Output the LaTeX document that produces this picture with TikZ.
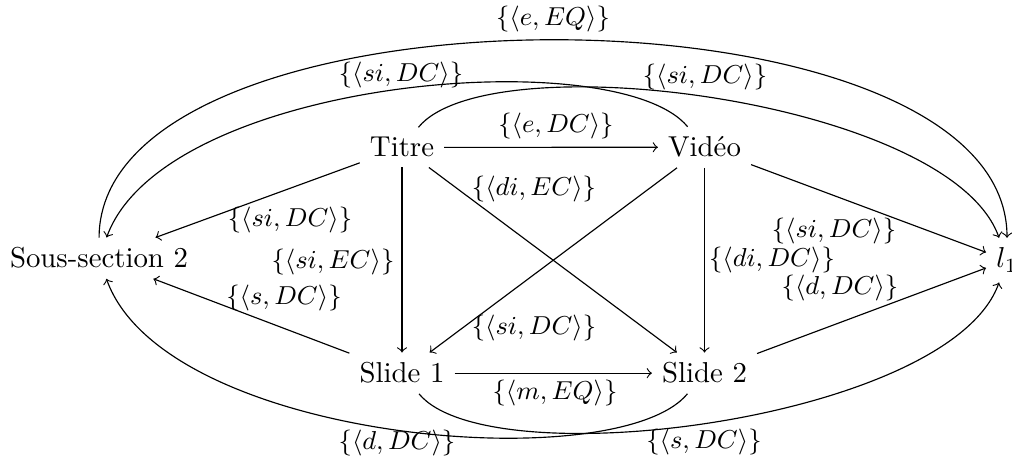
\documentclass[tikz,border=0pt]{standalone}
\tikzset{
  ar/.style={->},
  lab/.style={font=\small, inner sep=0pt},
  nd/.style={anchor=base},
}
\begin{document}
\begin{tikzpicture}[x=0.3472pt,y=-0.3472pt]
\useasboundingbox (0,0) rectangle (1012,460);
% nodes
\node[nd] (t)  at (402,157)   {Titre};
\node[nd] (v)  at (704.5,157) {Vidéo};
\node[nd] (ss) at (99,268)    {Sous-section 2};
\node[nd] (l)  at (1007,268)  {$l_1$};
\node[nd] (s1) at (402,383)   {Slide 1};
\node[nd] (s2) at (704.5,383) {Slide 2};
% straight connectors
\draw[ar] (t) -- (v);
\draw[ar] (t) -- (ss);
\draw[ar] (t) -- (s1);
\draw[ar] (t) -- (s2);
\draw[ar] (v) -- (s1);
\draw[ar] (v) -- (s2);
\draw[ar] (v) -- (l);
\draw[ar] (s1) -- (ss);
\draw[ar] (s1) -- (s2);
\draw[ar] (s2) -- (l);
% curved connectors
\draw[ar] (ss) .. controls (100,-26) and (1007,-26) .. (l);
\draw[ar] (v) .. controls (617,41) and (165,78) .. (ss);
\draw[ar] (t) .. controls (489,41) and (950,100) .. (l);
\draw[ar] (s2) .. controls (617,479) and (165,442) .. (ss);
\draw[ar] (s1) .. controls (489,479) and (950,420) .. (l);
% labels
\node[lab] (la1)  at (553,19)  {$\{\langle e, EQ\rangle\}$};
\node[lab] (la2)  at (401,75)  {$\{\langle si, DC\rangle\}$};
\node[lab] (la3)  at (705,77)  {$\{\langle si, DC\rangle\}$};
\node[lab] (la4)  at (556,126) {$\{\langle e, DC\rangle\}$};
\node[lab] (la5)  at (534,189) {$\{\langle di, EC\rangle\}$};
\node[lab] (la6)  at (290,220) {$\{\langle si, DC\rangle\}$};
\node[lab] (la7)  at (333,262) {$\{\langle si, EC\rangle\}$};
\node[lab] (la8)  at (284,298) {$\{\langle s, DC\rangle\}$};
\node[lab] (la9)  at (534,328) {$\{\langle si, DC\rangle\}$};
\node[lab] (la10) at (555,393) {$\{\langle m, EQ\rangle\}$};
\node[lab] (la11) at (397,443) {$\{\langle d, DC\rangle\}$};
\node[lab] (la12) at (704,442) {$\{\langle s, DC\rangle\}$};
\node[lab] (la13) at (772,260) {$\{\langle di, DC\rangle\}$};
\node[lab] (la14) at (840,288) {$\{\langle d, DC\rangle\}$};
\node[lab] (la15) at (834,231) {$\{\langle si, DC\rangle\}$};
\end{tikzpicture}
\end{document}
